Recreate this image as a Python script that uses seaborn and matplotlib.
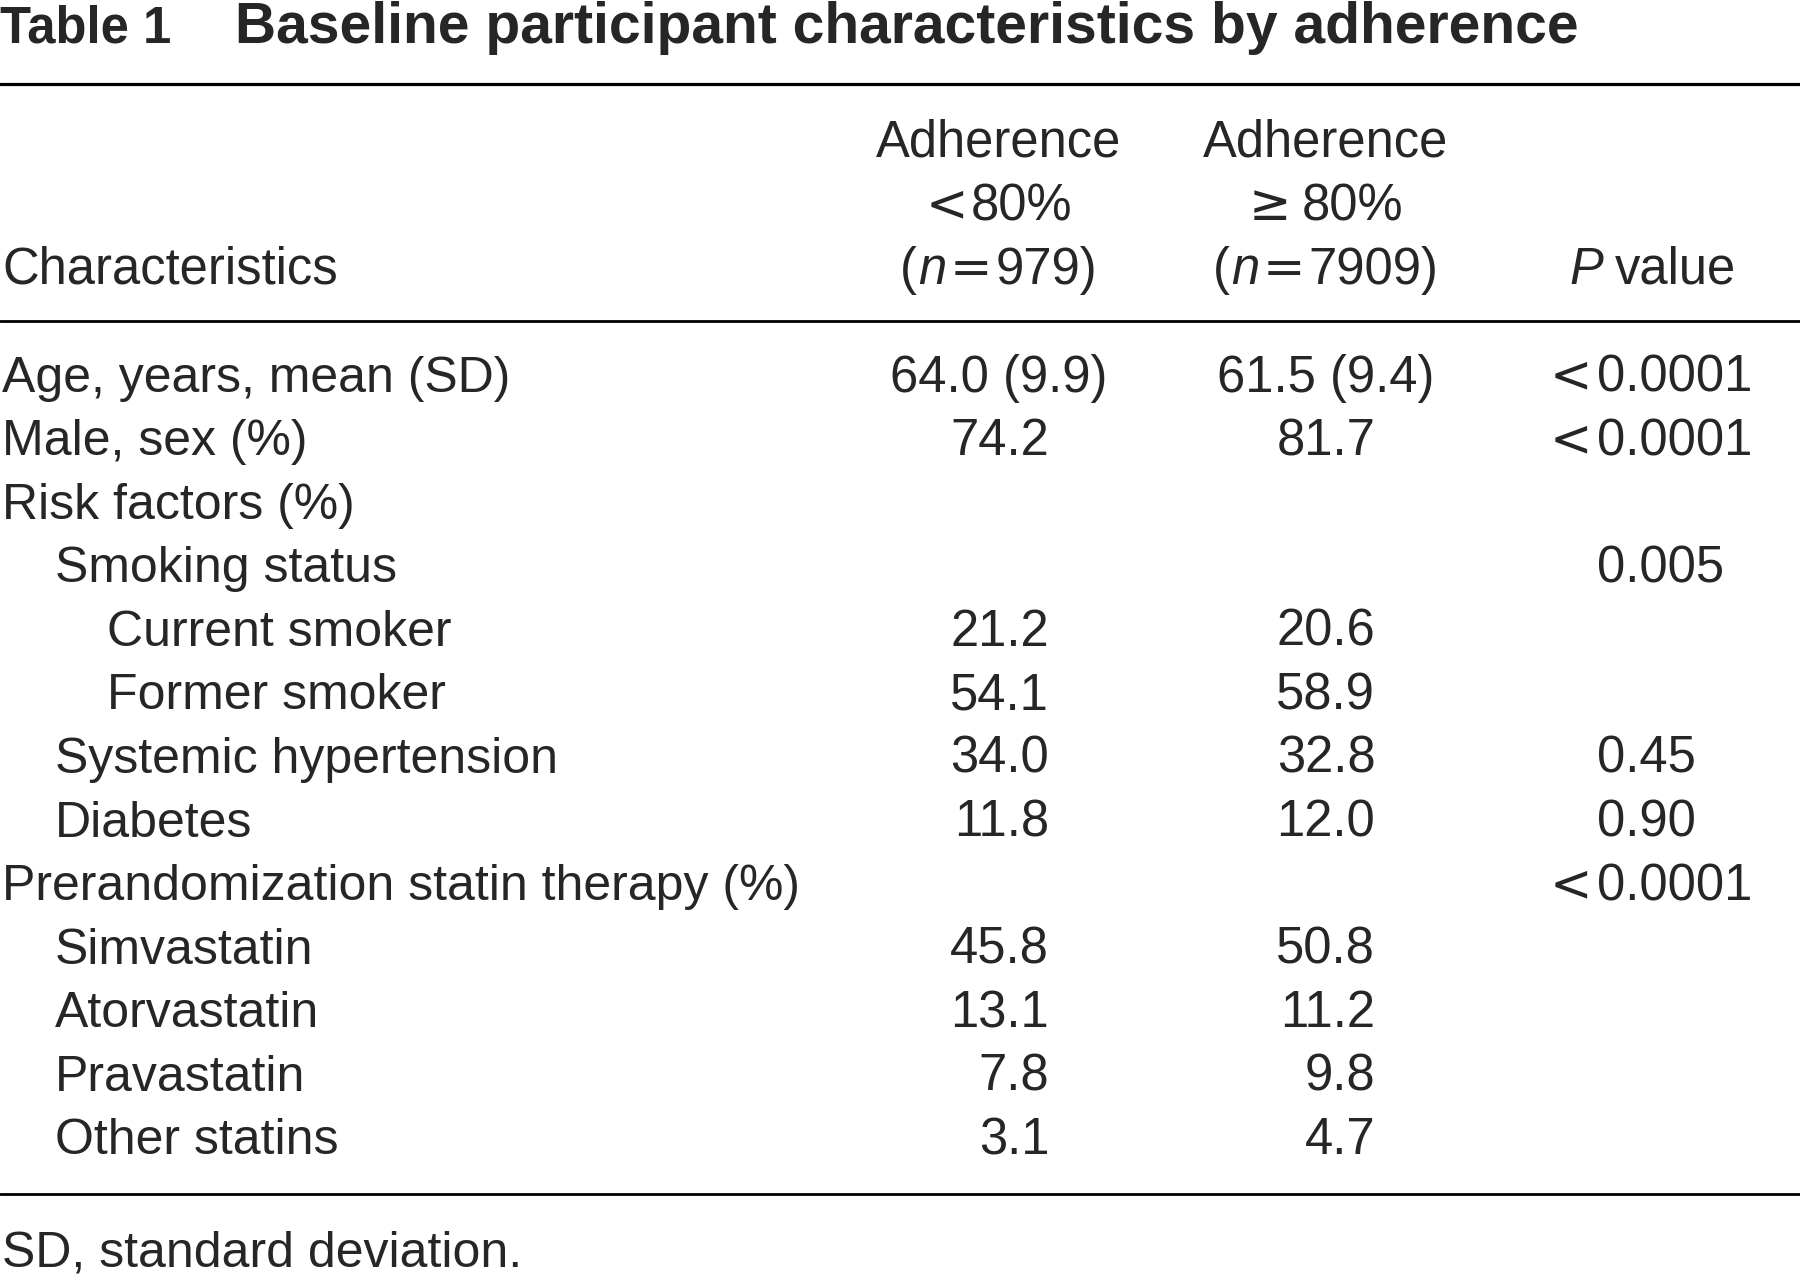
import matplotlib
matplotlib.use("Agg")
import matplotlib.pyplot as plt
import seaborn as sns

sns.set_theme(style="white")
plt.rcParams['font.family'] = ['Liberation Sans', 'DejaVu Sans']

# table content
title_tag = "Table 1"
title_text = "Baseline participant characteristics by adherence"
row_labels = ["Age, years, mean (SD)", "Male, sex (%)", "Risk factors (%)",
              "Smoking status", "Current smoker", "Former smoker",
              "Systemic hypertension", "Diabetes",
              "Prerandomization statin therapy (%)", "Simvastatin",
              "Atorvastatin", "Pravastatin", "Other statins"]
row_indent = [0, 0, 0, 1, 2, 2, 1, 1, 0, 1, 1, 1, 1]
low_adherence = ["64.0 (9.9)", "74.2", "", "", "21.2", "54.1", "34.0", "11.8",
                 "", "45.8", "13.1", "7.8", "3.1"]
high_adherence = ["61.5 (9.4)", "81.7", "", "", "20.6", "58.9", "32.8", "12.0",
                  "", "50.8", "11.2", "9.8", "4.7"]
p_values = ["<0.0001", "<0.0001", "", "0.005", "", "", "0.45", "0.90",
            "<0.0001", "", "", "", ""]
group_n = ["979", "7909"]
footnote = "SD, standard deviation."

W, H = 1568, 1116
FS = 36.5      # numbers and headers
FS_LAB = 36    # row labels
fig = plt.figure(figsize=(18, 12.78), dpi=100)
ax = fig.add_axes([0, 0, 1, 1])
ax.set_xlim(0, W)
ax.set_ylim(H, 0)
ax.axis("off")
renderer = fig.canvas.get_renderer()
px2data = W / fig.bbox.width

REG = dict(family="Liberation Sans")
ITA = dict(family="Liberation Sans", style="italic")
SYM = dict(family="DejaVu Sans")


def run_width(s, props, size):
    t = ax.text(0, 0, s, fontsize=size, **props)
    w = t.get_window_extent(renderer).width * px2data
    t.remove()
    return w


def draw_runs(x, y, runs, ha="left", size=FS):
    # runs: list of (text, props, gap_after)
    widths = [run_width(s, p, size) for s, p, g in runs]
    total = sum(widths) + sum(g for s, p, g in runs[:-1])
    if ha == "center":
        x = x - total / 2
    elif ha == "right":
        x = x - total
    for (s, p, g), w in zip(runs, widths):
        ax.text(x, y, s, fontsize=size, va="baseline", ha="left", **p)
        x += w + g


# title
ax.text(0, 37.5, title_tag, fontsize=36.5, fontweight="bold", va="baseline", ha="left")
ax.text(205, 37.5, title_text, fontsize=41, fontweight="bold", va="baseline", ha="left")

# rules
ax.axhline(73, color="black", lw=2.3)
ax.axhline(280, color="black", lw=2.0)
ax.axhline(1043, color="black", lw=2.0)

# header
head_base = [137, 192.5, 248]
col_center = [870, 1155, 1440]
ax.text(2, head_base[2], "Characteristics", fontsize=FS, va="baseline", ha="left")
for c in range(2):
    ax.text(col_center[c], head_base[0], "Adherence", fontsize=FS, va="baseline", ha="center")
    draw_runs(col_center[c], head_base[2],
              [("(", REG, 1), ("n", ITA, 3), ("=", SYM, 3), (group_n[c] + ")", REG, 0)],
              ha="center")
draw_runs(col_center[0], head_base[1], [("<", SYM, 2), ("80%", REG, 0)], ha="center")
draw_runs(col_center[1], head_base[1], [("\u2265", SYM, 10), ("80%", REG, 0)], ha="center")
draw_runs(col_center[2], head_base[2], [("P", ITA, 10), ("value", REG, 0)], ha="center")

# body
row_step = 55.5
first_base = 342
indent_step = 45.5
col_right = [914, 1198]
p_left = 1391
for i, label in enumerate(row_labels):
    yb = first_base + i * row_step
    ax.text(2 + row_indent[i] * indent_step, yb, label, fontsize=FS_LAB, va="baseline", ha="left")
    for c, vals in enumerate([low_adherence, high_adherence]):
        v = vals[i]
        if not v:
            continue
        if "(" in v:
            ax.text(col_center[c], yb, v, fontsize=FS, va="baseline", ha="center")
        else:
            ax.text(col_right[c], yb, v, fontsize=FS, va="baseline", ha="right")
    p = p_values[i]
    if p:
        if p.startswith("<"):
            ax.text(p_left - 4, yb, "<", fontsize=FS, va="baseline", ha="right", **SYM)
            p = p[1:]
        ax.text(p_left, yb, p, fontsize=FS, va="baseline", ha="left")

ax.text(2, 1106, footnote, fontsize=FS_LAB, va="baseline", ha="left")

fig.savefig("out.png", dpi=100, facecolor="white")
